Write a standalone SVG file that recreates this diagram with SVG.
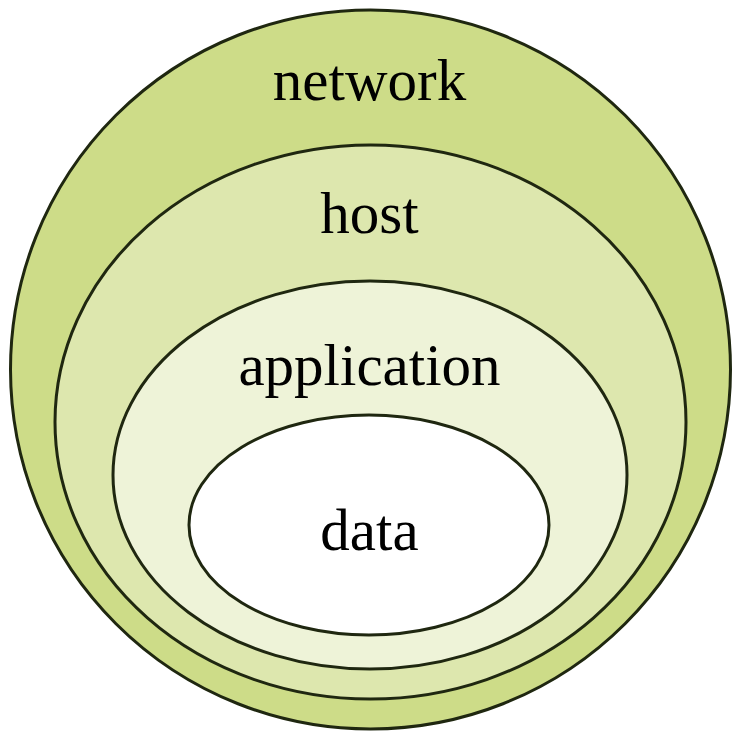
<svg xmlns="http://www.w3.org/2000/svg" width="745" height="741" viewBox="0 0 745 741">
<style>
.ring{stroke:#1f2710;stroke-width:3}
.lbl{font-family:"Liberation Serif","Times New Roman",serif;font-size:59px;fill:#000;text-anchor:middle}
</style>
<rect width="745" height="741" fill="#ffffff"/>
<g id="network">
<ellipse class="ring" cx="370.5" cy="369.5" rx="360" ry="359.5" fill="#cddc88"/>
<text class="lbl" x="369.5" y="100">network</text>
</g>
<g id="host">
<ellipse class="ring" cx="370.5" cy="422" rx="315.5" ry="277" fill="#dde7ae"/>
<text class="lbl" x="369.5" y="233">host</text>
</g>
<g id="application">
<ellipse class="ring" cx="370" cy="475" rx="257" ry="194" fill="#eef3d8"/>
<text class="lbl" x="369.5" y="385">application</text>
</g>
<g id="data">
<ellipse class="ring" cx="369" cy="525" rx="180" ry="110" fill="#ffffff"/>
<text class="lbl" x="369.5" y="550">data</text>
</g>
<g id="connectors"/>
</svg>
